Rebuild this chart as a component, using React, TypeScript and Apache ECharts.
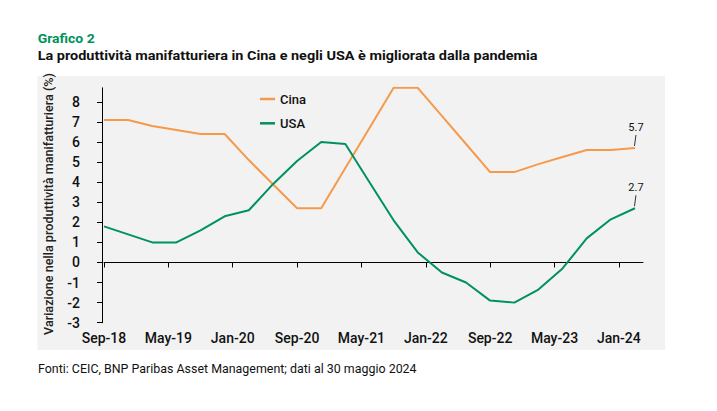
import React, { useEffect, useRef } from "react";
import * as echarts from "echarts";

const months = [
  "Sep-18", "Oct-18", "Nov-18", "Dec-18",
  "Jan-19", "Feb-19", "Mar-19", "Apr-19", "May-19", "Jun-19", "Jul-19", "Aug-19", "Sep-19", "Oct-19", "Nov-19", "Dec-19",
  "Jan-20", "Feb-20", "Mar-20", "Apr-20", "May-20", "Jun-20", "Jul-20", "Aug-20", "Sep-20", "Oct-20", "Nov-20", "Dec-20",
  "Jan-21", "Feb-21", "Mar-21", "Apr-21", "May-21", "Jun-21", "Jul-21", "Aug-21", "Sep-21", "Oct-21", "Nov-21", "Dec-21",
  "Jan-22", "Feb-22", "Mar-22", "Apr-22", "May-22", "Jun-22", "Jul-22", "Aug-22", "Sep-22", "Oct-22", "Nov-22", "Dec-22",
  "Jan-23", "Feb-23", "Mar-23", "Apr-23", "May-23", "Jun-23", "Jul-23", "Aug-23", "Sep-23", "Oct-23", "Nov-23", "Dec-23",
  "Jan-24", "Feb-24", "Mar-24", "Apr-24",
];

const quarters = [
  "Sep-18", "Dec-18", "Mar-19", "Jun-19", "Sep-19", "Dec-19", "Mar-20", "Jun-20",
  "Sep-20", "Dec-20", "Mar-21", "Jun-21", "Sep-21", "Dec-21", "Mar-22", "Jun-22",
  "Sep-22", "Dec-22", "Mar-23", "Jun-23", "Sep-23", "Dec-23", "Mar-24",
];

const cina = [7.1, 7.1, 6.8, 6.6, 6.4, 6.4, 5.1, 3.9, 2.7, 2.7, 4.7, 6.7, 8.7, 8.7, 7.3, 5.9, 4.5, 4.5, 4.9, 5.25, 5.6, 5.6, 5.7];
const usa = [1.8, 1.4, 1.0, 1.0, 1.6, 2.3, 2.6, 3.9, 5.05, 6.0, 5.9, 4.0, 2.1, 0.5, -0.5, -1.0, -1.9, -2.0, -1.35, -0.3, 1.2, 2.15, 2.7];

const yTicks = [-3, -2, -1, 0, 1, 2, 3, 4, 5, 6, 7, 8];
const Y_MIN = -3;
const Y_MAX = 8.7;

const TITLE = "Grafico 2";
const SUBTITLE = "La produttività manifatturiera in Cina e negli USA è migliorata dalla pandemia";
const FOOTNOTE = "Fonti: CEIC, BNP Paribas Asset Management; dati al 30 maggio 2024";
const Y_NAME = "Variazione nella produttività manifatturiera (%)";

const ORANGE = "#F59A4B";
const GREEN = "#009160";
const FONT = "Roboto, 'Noto Sans', sans-serif";

function fit(text: string, font: string, target: number): number {
  const c = document.createElement("canvas").getContext("2d");
  if (!c) return 1;
  c.font = font;
  const w = c.measureText(text).width;
  return w > 0 ? target / w : 1;
}

export default function App() {
  const ref = useRef<HTMLDivElement>(null);

  useEffect(() => {
    if (!ref.current) return;
    const chart = echarts.init(ref.current, undefined, { renderer: "svg" });

    const gridTop = 87.8;
    const gridBottomPx = 322.7;

    const titleFont = `bold 13.5px ${FONT}`;
    const subFont = `bold 13px ${FONT}`;
    const footFont = `normal 12.5px ${FONT}`;
    const yNameFont = `500 12.5px ${FONT}`;

    const lastIdx = quarters.length - 1;
    const annotations = [
      [quarters[lastIdx], cina[lastIdx]],
      [quarters[lastIdx], usa[lastIdx]],
    ];

    chart.setOption({
      animation: false,
      backgroundColor: "#ffffff",
      grid: { left: 104, right: 74, top: gridTop, bottom: 411 - gridBottomPx, containLabel: false },
      legend: {
        data: ["Cina", "USA"],
        orient: "vertical",
        left: 255,
        top: 87.5,
        icon: "rect",
        itemWidth: 15,
        itemHeight: 2.5,
        itemGap: 11.3,
        textStyle: { fontFamily: FONT, fontSize: 13, fontWeight: 500, color: "#111" },
      },
      xAxis: {
        type: "category",
        data: months,
        boundaryGap: false,
        axisLine: { show: true, onZero: true, lineStyle: { color: "#000", width: 1 } },
        axisTick: { show: true, interval: 7, length: 5, inside: false, lineStyle: { color: "#000" } },
        axisLabel: {
          show: true,
          interval: 7,
          margin: 8,
          fontFamily: FONT,
          fontSize: 14,
          fontWeight: 500,
          color: "#111",
        },
        splitLine: { show: false },
      },
      yAxis: {
        type: "value",
        min: Y_MIN,
        max: Y_MAX,
        interval: 1,
        offset: 2,
        axisLine: { show: true, lineStyle: { color: "#000", width: 1 } },
        axisTick: { show: true, length: 5, customValues: yTicks, lineStyle: { color: "#000" } },
        axisLabel: {
          customValues: yTicks,
          margin: 22,
          fontFamily: FONT,
          fontSize: 14,
          fontWeight: 500,
          color: "#111",
        },
        splitLine: { show: false },
      },
      series: [
        {
          name: "Cina",
          type: "line",
          data: quarters.map((q, i) => [q, cina[i]]),
          symbol: "none",
          lineStyle: { color: ORANGE, width: 2 },
          itemStyle: { color: ORANGE },
          z: 3,
        },
        {
          name: "USA",
          type: "line",
          data: quarters.map((q, i) => [q, usa[i]]),
          symbol: "none",
          lineStyle: { color: GREEN, width: 2 },
          itemStyle: { color: GREEN },
          z: 4,
        },
        {
          type: "custom",
          data: annotations,
          clip: false,
          silent: true,
          z: 5,
          renderItem: (params: any, api: any) => {
            const p = api.coord([api.value(0), api.value(1)]);
            const v = api.value(1);
            return {
              type: "group",
              children: [
                {
                  type: "line",
                  shape: { x1: p[0] - 0.5, y1: p[1] - 2, x2: p[0] + 1, y2: p[1] - 13 },
                  style: { stroke: "#333", lineWidth: 1 },
                },
                {
                  type: "text",
                  x: p[0] + 1,
                  y: p[1] - 21,
                  style: {
                    text: Number(v).toFixed(1),
                    fill: "#111",
                    font: `normal 11px ${FONT}`,
                    textAlign: "center",
                    textVerticalAlign: "middle",
                  },
                },
              ],
            };
          },
        },
      ],
      graphic: [
        {
          type: "rect",
          z: -10,
          silent: true,
          shape: { x: 37.5, y: 76, width: 627.5, height: 274 },
          style: { fill: "#f2f2f2" },
        },
        {
          type: "text",
          x: 37.7,
          y: 38,
          scaleX: fit(TITLE, titleFont, 57),
          style: { text: TITLE, font: titleFont, fill: "#00915A", textAlign: "left", textVerticalAlign: "middle" },
        },
        {
          type: "text",
          x: 37.7,
          y: 55.7,
          scaleX: fit(SUBTITLE, subFont, 500),
          style: { text: SUBTITLE, font: subFont, fill: "#111", textAlign: "left", textVerticalAlign: "middle" },
        },
        {
          type: "text",
          x: 38,
          y: 368.5,
          scaleX: fit(FOOTNOTE, footFont, 379),
          style: { text: FOOTNOTE, font: footFont, fill: "#111", textAlign: "left", textVerticalAlign: "middle" },
        },
        {
          type: "text",
          x: 48.5,
          y: 204,
          rotation: Math.PI / 2,
          scaleX: fit(Y_NAME, yNameFont, 262),
          style: { text: Y_NAME, font: yNameFont, fill: "#222", textAlign: "center", textVerticalAlign: "middle" },
        },
      ],
    });

    return () => {
      chart.dispose();
    };
  }, []);

  return (
    <div
      ref={ref}
      style={{ position: "fixed", left: 0, top: 0, width: 717, height: 411 }}
    />
  );
}
